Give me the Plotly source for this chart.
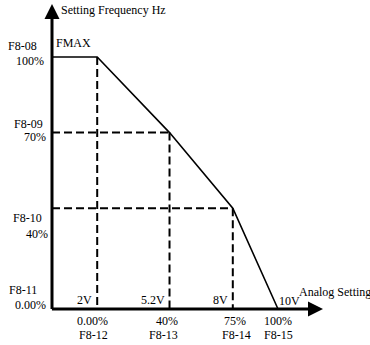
import plotly.graph_objects as go

# ---- data ----
volts = [0, 2, 5.2, 8, 10]
freq_pct = [100, 100, 70, 40, 0]

y_codes = ["F8-08", "F8-09", "F8-10", "F8-11"]
y_pcts = ["100%", "70%", "40%", "0.00%"]
y_levels = [100, 70, 40, 0]

x_volt_labels = ["2V", "5.2V", "8V", "10V"]
x_pct_labels = ["0.00%", "40%", "75%", "100%"]
x_codes = ["F8-12", "F8-13", "F8-14", "F8-15"]
x_levels = [2, 5.2, 8, 10]

FONT = "Liberation Serif, Times New Roman, serif"

# page-pixel geometry
X0, SX = 52, 22.6      # page x of 0 V, px per volt
Y0, SY = 309, 2.52     # page y of 0 %, px per percent
W, H = 370, 345


def vx(px):
    return (px - X0) / SX


def py(pyv):
    return (Y0 - pyv) / SY


fig = go.Figure()

# dashed guide lines from breakpoints
dx, dy = [], []
for v, p in zip(volts[1:4], freq_pct[1:4]):
    dx += [v, v, None]
    dy += [p, 0, None]
for v, p in zip(volts[2:4], freq_pct[2:4]):
    dx += [0, v, None]
    dy += [p, p, None]
fig.add_trace(go.Scatter(x=dx, y=dy, mode="lines",
                         line=dict(color="black", width=2, dash="8px,4px"),
                         hoverinfo="skip", showlegend=False))

# main curve
fig.add_trace(go.Scatter(x=volts, y=freq_pct, mode="lines",
                         line=dict(color="black", width=1.6),
                         hoverinfo="skip", showlegend=False))

ann = []
# axes with arrows
ann.append(dict(x=0, y=py(4), ax=0, ay=-0.6, xref="x", yref="y", axref="x", ayref="y",
                text="", showarrow=True, arrowhead=2, arrowwidth=3, arrowsize=1,
                arrowcolor="black", standoff=0, startstandoff=0))
ann.append(dict(x=vx(323), y=0, ax=-0.07, ay=0, xref="x", yref="y", axref="x", ayref="y",
                text="", showarrow=True, arrowhead=2, arrowwidth=3, arrowsize=1,
                arrowcolor="black", standoff=0, startstandoff=0))

tf = dict(family=FONT, size=12, color="black")
ann.append(dict(x=vx(59), y=py(10), xref="x", yref="y", text="Setting Frequency Hz",
                showarrow=False, xanchor="left", yanchor="middle", font=tf))
ann.append(dict(x=vx(54), y=py(43), xref="x", yref="y", text="FMAX",
                showarrow=False, xanchor="left", yanchor="middle", font=tf))
ann.append(dict(x=vx(297), y=py(292), xref="x", yref="y", text="Analog Setting",
                showarrow=False, xanchor="left", yanchor="middle", font=tf))

# left labels
code_shift = [11, 8.5, -10, 19]
pct_shift = [-4, -4.5, -26, 4]
code_x = [22, 28, 27, 23]
pct_x = [30, 35, 37, 30]
for i, (c, p, lv) in enumerate(zip(y_codes, y_pcts, y_levels)):
    ann.append(dict(x=vx(code_x[i]), y=lv, xref="x", yref="y", text=c,
                    showarrow=False, xanchor="center", yanchor="middle",
                    yshift=code_shift[i], font=tf))
    ann.append(dict(x=vx(pct_x[i]), y=lv, xref="x", yref="y", text=p,
                    showarrow=False, xanchor="center", yanchor="middle",
                    yshift=pct_shift[i], font=tf))

# bottom labels
pct_cx = [92, 167, 235, 278]
code_cx = [93, 163, 236, 278]
for i, (vl, pl, cl, xv) in enumerate(zip(x_volt_labels, x_pct_labels, x_codes, x_levels)):
    if i < 3:
        ann.append(dict(x=xv, y=0, xref="x", yref="y", text=vl, showarrow=False,
                        xanchor="right", yanchor="middle", xshift=-3, yshift=9, font=tf))
    else:
        ann.append(dict(x=xv, y=0, xref="x", yref="y", text=vl, showarrow=False,
                        xanchor="left", yanchor="middle", xshift=-1, yshift=8, font=tf))
    ann.append(dict(x=vx(pct_cx[i]), y=0, xref="x", yref="y", text=pl,
                    showarrow=False, xanchor="center", yanchor="middle", yshift=-12, font=tf))
    ann.append(dict(x=vx(code_cx[i]), y=0, xref="x", yref="y", text=cl,
                    showarrow=False, xanchor="center", yanchor="middle", yshift=-26, font=tf))

fig.update_layout(
    width=W, height=H, autosize=False,
    margin=dict(l=0, r=0, t=0, b=0),
    paper_bgcolor="white", plot_bgcolor="white",
    xaxis=dict(range=[vx(0), vx(W)], visible=False, fixedrange=True),
    yaxis=dict(range=[py(H), py(0)], visible=False, fixedrange=True),
    annotations=ann,
    showlegend=False,
)
fig.write_html("out.html",
               config={"displayModeBar": False, "staticPlot": True},
               post_script="document.body.style.margin='0';document.body.style.overflow='hidden';")
